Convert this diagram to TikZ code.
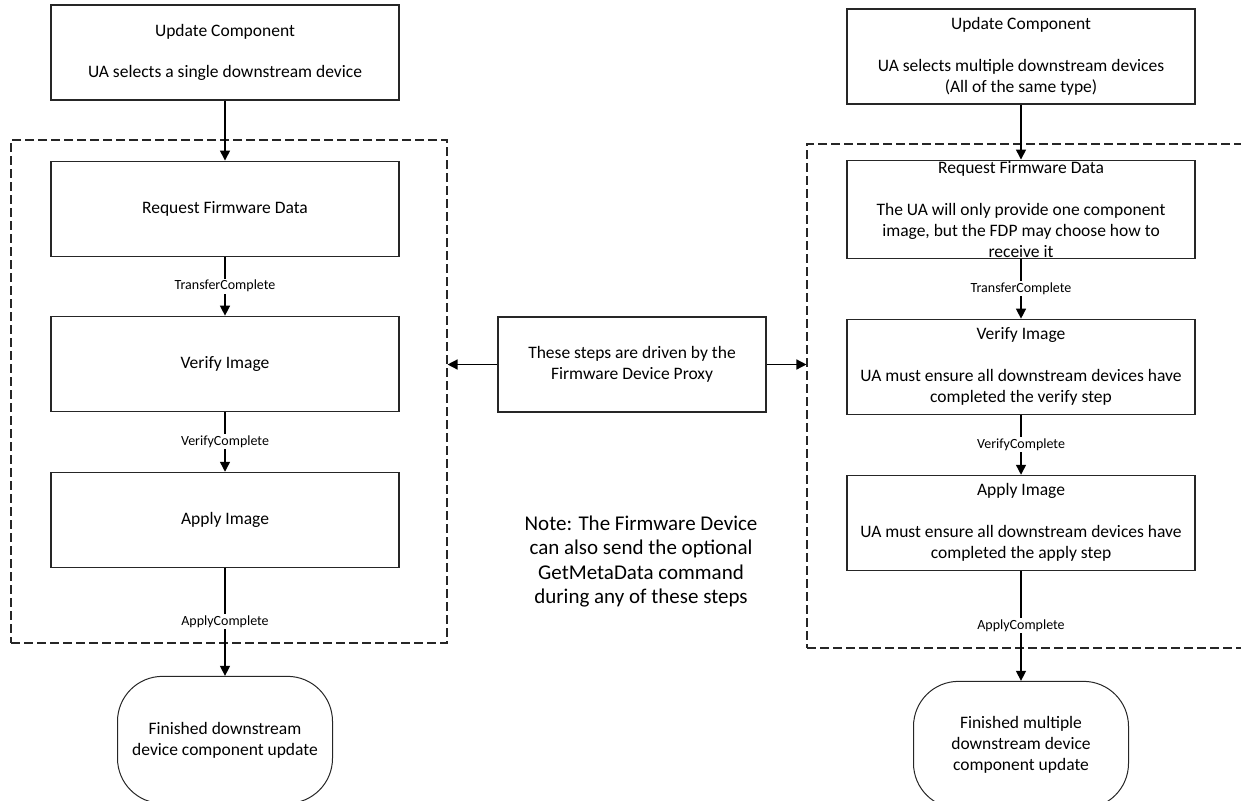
\documentclass[tikz,border=0pt]{standalone}
\usepackage{fontspec}
\setmainfont{Carlito}
\usetikzlibrary{arrows.meta, positioning}

\begin{document}
\begin{tikzpicture}[
  x=1pt, y=-1pt,
  node distance=60pt,
  stepbox/.style={draw=black!85, line width=1.1pt, minimum width=348pt, minimum height=95pt,
    align=center, inner sep=2pt, font=\fontsize{17.5}{21}\selectfont},
  endbox/.style={draw=black!85, line width=1pt, rounded corners=45pt, minimum width=215pt,
    minimum height=127pt, align=center, font=\fontsize{17.5}{21}\selectfont},
  group/.style={draw=black!85, dash pattern=on 9pt off 4pt, line width=1.1pt},
  arrow/.style={-{Triangle[width=10pt,length=10pt]}, line width=1.4pt},
  cond/.style={fill=white, inner sep=1.5pt, font=\fontsize{14}{16}\selectfont}]
  \useasboundingbox (0,0) rectangle (1241,800);

  % dashed groups
  \node[group, minimum width=436pt, minimum height=503pt] (grp1) at (229,391.5) {};
  \node[group, minimum width=460pt, minimum height=504pt] (grp2) at (1037,396) {};

  % single device
  \node[stepbox] (up1) at (225,52.5) {Update Component\\[20pt]UA selects a single downstream device};
  \node[stepbox, below=60pt of up1] (req1) {Request Firmware Data};
  \node[stepbox, below=59pt of req1] (ver1) {Verify Image};
  \node[stepbox, below=60pt of ver1] (app1) {Apply Image};
  \node[endbox, below=108pt of app1] (fin1) {Finished downstream\\device component update};

  % multiple devices
  \node[stepbox] (up2) at (1021,56.5) {Update Component\\[21pt]UA selects multiple downstream devices\\(All of the same type)};
  \node[stepbox, minimum height=98pt, below=55pt of up2,
    label={[align=center, font=\fontsize{17.5}{21}\selectfont]center:Request Firmware Data\\[21pt]The UA will only provide one component\\image, but the FDP may choose how to\\receive it}] (req2) {};
  \node[stepbox, below=60pt of req2] (ver2) {Verify Image\\[21pt]UA must ensure all downstream devices have\\completed the verify step};
  \node[stepbox, below=60pt of ver2] (app2) {Apply Image\\[21pt]UA must ensure all downstream devices have\\completed the apply step};
  \node[endbox, below=110pt of app2] (fin2) {Finished multiple\\downstream device\\component update};

  % middle
  \node[stepbox, minimum width=268pt] (proxy) at (632,364.5) {These steps are driven by the\\Firmware Device Proxy};
  \node[align=center, font=\fontsize{21}{24.4}\selectfont] (note) at (641,561.5) {Note: The Firmware Device\\can also send the optional\\GetMetaData command\\during any of these steps};

  \draw[arrow] (up1) -- (req1);
  \draw[arrow] (req1) -- node[cond] {TransferComplete} (ver1);
  \draw[arrow] (ver1) -- node[cond] {VerifyComplete} (app1);
  \draw[arrow] (app1) -- node[cond] {ApplyComplete} (fin1);

  \draw[arrow] (up2) -- (req2);
  \draw[arrow] (req2) -- node[cond] {TransferComplete} (ver2);
  \draw[arrow] (ver2) -- node[cond] {VerifyComplete} (app2);
  \draw[arrow] (app2) -- node[cond] {ApplyComplete} (fin2);

  \draw[arrow] (proxy.west) -- (proxy.west -| grp1.east);
  \draw[arrow] (proxy.east) -- (proxy.east -| grp2.west);
\end{tikzpicture}
\end{document}
